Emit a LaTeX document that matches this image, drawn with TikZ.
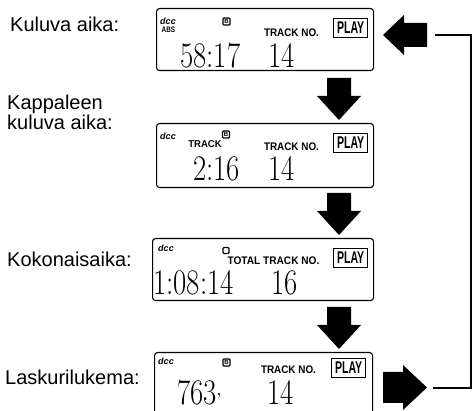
\documentclass[tikz,border=0pt]{standalone}
\usepackage{fontspec}
\newfontfamily\labfont{Liberation Sans}
\begin{document}
\begin{tikzpicture}[x=1pt,y=-1pt,
  lab/.style={font=\labfont\fontsize{20}{18}\selectfont, anchor=base west, inner sep=0pt, align=left},
  panel/.style={draw, line width=1.1pt, rounded corners=3pt, inner sep=0pt, anchor=north west},
  digit/.style={font=\rmfamily\fontsize{36}{36}\selectfont, anchor=base west, inner sep=0pt},
  tiny/.style={font=\labfont\bfseries\fontsize{11}{11}\selectfont, inner sep=0pt, anchor=base},
  playbox/.style={draw, line width=1.2pt, inner sep=1pt, minimum width=34pt, minimum height=19pt,
    font=\labfont\bfseries\fontsize{17}{17}\selectfont, anchor=north west},
  bbox/.style={draw, line width=1.1pt, rounded corners=1pt, minimum size=7pt, inner sep=0pt,
    font=\labfont\bfseries\fontsize{6}{6}\selectfont},
  logo/.style={font=\labfont\bfseries\itshape\fontsize{9}{9}\selectfont, inner sep=0pt},
  bigarrow/.style={fill=black},
  loopline/.style={line width=2.6pt}]
\useasboundingbox (0,0) rectangle (474,411);

% ---- labels on the left
\node[lab] (l1) at (10,32) {Kuluva aika:};
\node[lab] (l2) at (7,129.5) {Kappaleen\\kuluva aika:};
\node[lab] (l3) at (7,267) {Kokonaisaika:};
\node[lab] (l4) at (5,385) {Laskurilukema:};

% ---- display panels
\node[panel, minimum width=217pt, minimum height=62pt] (d1) at (156,8) {};
\node[panel, minimum width=217pt, minimum height=64pt] (d2) at (156,123) {};
\node[panel, minimum width=221pt, minimum height=62pt] (d3) at (152,238) {};
\node[panel, minimum width=218pt, minimum height=64pt] (d4) at (154,352) {};

% ---- panel 1: absolute time
\node[logo] (g1) at (168,21) {dcc};
\node[tiny, font=\labfont\bfseries\fontsize{8}{8}\selectfont] (a1) at (168.5,32.5) {\scalebox{0.8}[1]{ABS}};
\node[bbox] (b1) at (226.5,21.5) {B};
\node[tiny] (k1) at (291.5,37) {\scalebox{0.9}[1]{TRACK NO.}};
\node[playbox] (p1) at (333,18) {\scalebox{0.62}[1]{PLAY}};
\node[digit] (t1) at (180,68) {\scalebox{0.8}[1]{58:17}};
\node[digit] (n1) at (268,68) {\scalebox{0.8}[1]{14}};

% ---- panel 2: track time
\node[logo] (g2) at (168,136.5) {dcc};
\node[tiny, font=\labfont\bfseries\fontsize{10}{10}\selectfont] (a2) at (205,147.5) {\scalebox{0.95}[1]{TRACK}};
\node[bbox] (b2) at (226,134.5) {B};
\node[tiny] (k2) at (291.5,151) {\scalebox{0.9}[1]{TRACK NO.}};
\node[playbox] (p2) at (333,133) {\scalebox{0.62}[1]{PLAY}};
\node[digit] (t2) at (193,181) {\scalebox{0.8}[1]{2:16}};
\node[digit] (n2) at (268,181) {\scalebox{0.8}[1]{14}};

% ---- panel 3: total time
\node[logo] (g3) at (166,248) {dcc};
\node[bbox, minimum size=6pt] (b3) at (226,250.5) {};
\node[tiny] (k3) at (273.5,265) {\scalebox{0.92}[1]{TOTAL TRACK NO.}};
\node[playbox] (p3) at (333,248) {\scalebox{0.62}[1]{PLAY}};
\node[digit] (t3) at (153,295) {\scalebox{0.8}[1]{1:08:14}};
\node[digit] (n3) at (271,295) {\scalebox{0.8}[1]{16}};

% ---- panel 4: tape counter
\node[logo] (g4) at (166,361) {dcc};
\node[bbox] (b4) at (226.5,362.5) {B};
\node[tiny] (k4) at (288.5,374) {\scalebox{0.9}[1]{TRACK NO.}};
\node[playbox] (p4) at (331,358) {\scalebox{0.62}[1]{PLAY}};
\node[digit] (t4) at (177,405) {\scalebox{0.8}[1]{763}\raisebox{9pt}{\fontsize{14}{14}\selectfont\textbf{,}}};
\node[digit] (n4) at (267,405) {\scalebox{0.8}[1]{14}};

% ---- downward arrows between the panels
\fill[bigarrow] (327,78) -- (351,78) -- (351,96) -- (361,96) -- (339,120) -- (317,96) -- (327,96) -- cycle;
\fill[bigarrow] (327,193) -- (351,193) -- (351,211) -- (361,211) -- (339,235) -- (317,211) -- (327,211) -- cycle;
\fill[bigarrow] (327,307) -- (351,307) -- (351,325) -- (361,325) -- (339,349) -- (317,325) -- (327,325) -- cycle;

% ---- return arrows on the right
\fill[bigarrow] (383,35) -- (404,15) -- (404,23) -- (427,23) -- (427,47) -- (404,47) -- (404,55) -- cycle;
\fill[bigarrow] (383,372) -- (403,372) -- (403,365) -- (427,387.5) -- (403,410) -- (403,403) -- (383,403) -- cycle;

% ---- loop line joining the two side arrows
\coordinate (inend) at (435,35);
\coordinate (outstart) at (433,388);
\coordinate (corner) at (471,35);
\draw[loopline] (outstart) -- (outstart -| corner) -- (corner) -- (inend);
\end{tikzpicture}
\end{document}
